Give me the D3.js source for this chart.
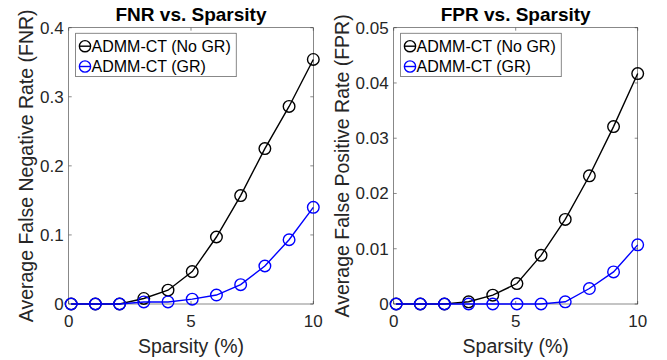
<!DOCTYPE html>
<html>
<head>
<meta charset="utf-8">
<script src="https://cdn.jsdelivr.net/npm/d3@7"></script>
<style>
  html, body { margin: 0; padding: 0; background: #fff; }
  svg { display: block; font-family: "Liberation Sans", Arial, Helvetica, sans-serif; }
</style>
</head>
<body>
<svg id="chart" width="667" height="360"></svg>
<script>
// ---- data ----
const sparsity = [0.1, 1.09, 2.08, 3.07, 4.06, 5.05, 6.04, 7.03, 8.02, 9.01, 10];
const fnrNoGR = [0, 0, 0, 0.008, 0.020, 0.047, 0.097, 0.157, 0.225, 0.286, 0.354];
const fnrGR   = [0, 0, 0, 0.003, 0.003, 0.007, 0.013, 0.028, 0.055, 0.093, 0.140];
const fprNoGR = [0, 0, 0, 0.0004, 0.0016, 0.0037, 0.0088, 0.0153, 0.0232, 0.0321, 0.0417];
const fprGR   = [0, 0, 0, 0, 0, 0, 0, 0.0004, 0.0028, 0.0058, 0.0107];
const xTicks = [0, 5, 10];
const fnrTicks = [0, 0.1, 0.2, 0.3, 0.4];
const fprTicks = [0, 0.01, 0.02, 0.03, 0.04, 0.05];
const seriesNames = ["ADMM-CT (No GR)", "ADMM-CT (GR)"];
const seriesColors = ["#000000", "#0000ff"];

const svg = d3.select("#chart");
const textColor = "#262626";
const axisColor = "#3a3a3a";

function panel(cfg) {
  const x = d3.scaleLinear().domain([0, 10]).range([cfg.left, cfg.right]);
  const y = d3.scaleLinear().domain([0, cfg.yMax]).range([cfg.bottom, cfg.top]);
  const g = svg.append("g");
  const tl = 3;

  // box
  g.append("rect").attr("x", cfg.left).attr("y", cfg.top)
    .attr("width", cfg.right - cfg.left).attr("height", cfg.bottom - cfg.top)
    .attr("fill", "none").attr("stroke", axisColor).attr("stroke-width", 0.6);

  // x ticks (bottom + top, inward)
  xTicks.forEach(t => {
    g.append("line").attr("x1", x(t)).attr("x2", x(t)).attr("y1", cfg.bottom).attr("y2", cfg.bottom - tl)
      .attr("stroke", axisColor).attr("stroke-width", 0.6);
    g.append("line").attr("x1", x(t)).attr("x2", x(t)).attr("y1", cfg.top).attr("y2", cfg.top + tl)
      .attr("stroke", axisColor).attr("stroke-width", 0.6);
    g.append("text").attr("x", x(t)).attr("y", cfg.bottom + 22.5)
      .attr("text-anchor", "middle").attr("font-size", 17).attr("fill", textColor).text(String(t));
  });
  // y ticks
  cfg.yTicks.forEach(t => {
    g.append("line").attr("x1", cfg.left).attr("x2", cfg.left + tl).attr("y1", y(t)).attr("y2", y(t))
      .attr("stroke", axisColor).attr("stroke-width", 0.6);
    g.append("line").attr("x1", cfg.right).attr("x2", cfg.right - tl).attr("y1", y(t)).attr("y2", y(t))
      .attr("stroke", axisColor).attr("stroke-width", 0.6);
    g.append("text").attr("x", cfg.left - 5).attr("y", y(t)).attr("dy", "0.35em")
      .attr("text-anchor", "end").attr("font-size", 17).attr("fill", textColor).text(String(t));
  });

  // title
  g.append("text").attr("x", (cfg.left + cfg.right) / 2).attr("y", 20.5)
    .attr("text-anchor", "middle").attr("font-size", 19).attr("font-weight", "bold")
    .attr("fill", "#000").text(cfg.title);
  // x label
  g.append("text").attr("x", (cfg.left + cfg.right) / 2).attr("y", 352.5)
    .attr("text-anchor", "middle").attr("font-size", 19.5).attr("fill", textColor).text("Sparsity (%)");
  // y label
  const cy = (cfg.top + cfg.bottom) / 2;
  g.append("text").attr("transform", `translate(${cfg.yLabelX},${cy}) rotate(-90)`)
    .attr("text-anchor", "middle").attr("font-size", 19.5).attr("fill", textColor).text(cfg.yLabel);

  // series
  const line = d3.line().x((d, i) => x(sparsity[i])).y(d => y(d));
  cfg.series.forEach((vals, si) => {
    g.append("path").datum(vals).attr("d", line)
      .attr("fill", "none").attr("stroke", seriesColors[si]).attr("stroke-width", 1.4);
    g.selectAll(null).data(vals).enter().append("circle")
      .attr("cx", (d, i) => x(sparsity[i])).attr("cy", d => y(d)).attr("r", 5.8)
      .attr("fill", "none").attr("stroke", seriesColors[si]).attr("stroke-width", 1.4);
  });

  // legend
  const lx = cfg.left + 7, ly = cfg.top + 5.5;
  g.append("rect").attr("x", lx).attr("y", ly).attr("width", 160.5).attr("height", 43.5)
    .attr("fill", "#fff").attr("stroke", axisColor).attr("stroke-width", 0.6);
  seriesNames.forEach((name, si) => {
    const ry = ly + 13 + si * 20.3;
    const mx = lx + 9.3;
    g.append("line").attr("x1", mx - 5.8).attr("x2", mx + 5.8).attr("y1", ry).attr("y2", ry)
      .attr("stroke", seriesColors[si]).attr("stroke-width", 1.4);
    g.append("circle").attr("cx", mx).attr("cy", ry).attr("r", 5.6)
      .attr("fill", "none").attr("stroke", seriesColors[si]).attr("stroke-width", 1.4);
    g.append("text").attr("x", lx + 15.8).attr("y", ry + 5.8)
      .attr("font-size", 16).attr("fill", "#000").text(name);
  });
}

panel({
  left: 68.7, right: 313.3, top: 27.7, bottom: 304,
  yMax: 0.4, yTicks: fnrTicks, title: "FNR vs. Sparsity",
  yLabel: "Average False Negative Rate (FNR)", yLabelX: 33,
  series: [fnrNoGR, fnrGR]
});
panel({
  left: 393.7, right: 637.7, top: 27.7, bottom: 304,
  yMax: 0.05, yTicks: fprTicks, title: "FPR vs. Sparsity",
  yLabel: "Average False Positive Rate (FPR)", yLabelX: 349,
  series: [fprNoGR, fprGR]
});
</script>
</body>
</html>
